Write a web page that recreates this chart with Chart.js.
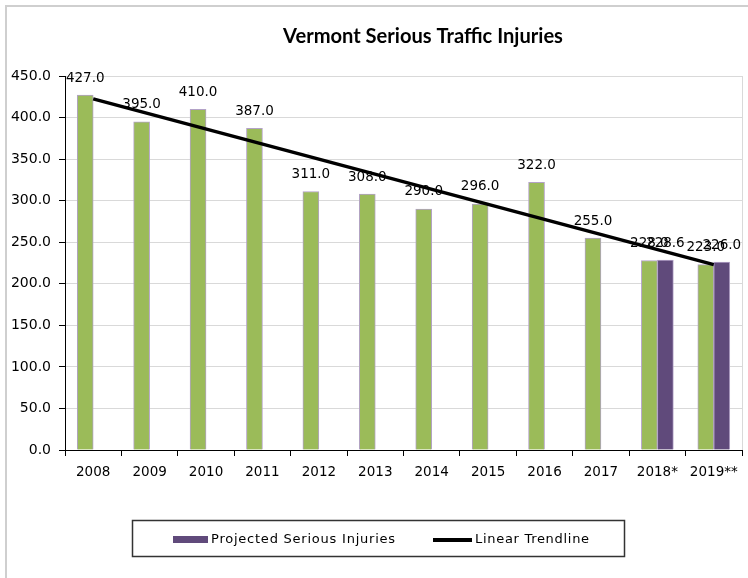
<!DOCTYPE html>
<html>
<head>
<meta charset="utf-8">
<script src="https://cdn.jsdelivr.net/npm/chart.js@4.4.0/dist/chart.umd.min.js"></script>
<style>
html,body{margin:0;padding:0;background:#fff;}
#wrap{width:748px;height:578px;position:relative;}
</style>
</head>
<body>
<div id="wrap"><canvas id="c" width="748" height="578"></canvas></div>
<script>
// ---- data ----
const categories = ['2008','2009','2010','2011','2012','2013','2014','2015','2016','2017','2018*','2019**'];
const seriousInjuries = [427, 395, 410, 387, 311, 308, 290, 296, 322, 255, 228, 223];
const projectedInjuries = [null, null, null, null, null, null, null, null, null, null, 228.6, 226.0];
const trendStartValue = 422.5;   // trendline value at 2008
const trendEndValue = 223.0;     // trendline value at 2019**
const yMin = 0, yMax = 450, yStep = 50;

const chartTitle = 'Vermont Serious Traffic Injuries';
const legendProjected = 'Projected Serious Injuries';
const legendTrend = 'Linear Trendline';

const GREEN = '#9BBB59';
const PURPLE = '#604A7B';
const BAR_EDGE = '#B3A2C7';
const FONT = '"DejaVu Sans", Verdana, sans-serif';

const framePlugin = {
  id: 'frame',
  beforeDraw(chart) {
    const ctx = chart.ctx;
    ctx.save();
    ctx.fillStyle = '#fff';
    ctx.fillRect(0, 0, chart.width, chart.height);
    ctx.strokeStyle = '#cfcfcf';
    ctx.lineWidth = 2;
    ctx.strokeRect(6, 6, chart.width + 20, chart.height + 20);
    ctx.restore();
  },
  beforeDatasetsDraw(chart) {
    const {ctx, chartArea} = chart;
    ctx.save();
    ctx.strokeStyle = '#d9d9d9';
    ctx.lineWidth = 1;
    ctx.beginPath();
    ctx.moveTo(Math.round(chartArea.right) + 0.5, chartArea.top);
    ctx.lineTo(Math.round(chartArea.right) + 0.5, chartArea.bottom);
    ctx.stroke();
    ctx.restore();
  }
};

const labelPlugin = {
  id: 'barLabels',
  afterDatasetDraw(chart, args) {
    const ds = chart.data.datasets[args.index];
    if (ds.type === 'line') return;
    const ctx = chart.ctx;
    ctx.save();
    ctx.font = '13.5px ' + FONT;
    ctx.fillStyle = '#000';
    ctx.textAlign = 'center';
    ctx.textBaseline = 'middle';
    args.meta.data.forEach((el, i) => {
      const v = ds.data[i];
      if (v === null || v === undefined) return;
      ctx.fillText(v.toFixed(1), el.x, el.y - 17);
    });
    ctx.restore();
  }
};

function fitText(ctx, text, x, y, targetWidth) {
  ctx.letterSpacing = '0px';
  const w = ctx.measureText(text).width;
  const extra = (targetWidth - w) / Math.max(1, text.length - 1);
  if ('letterSpacing' in ctx) ctx.letterSpacing = extra.toFixed(2) + 'px';
  ctx.fillText(text, x, y);
  if ('letterSpacing' in ctx) ctx.letterSpacing = '0px';
}

const titleLegendPlugin = {
  id: 'titleLegend',
  afterDraw(chart) {
    const ctx = chart.ctx;
    ctx.save();
    // title
    let size = 16;
    ctx.font = 'bold ' + size + 'px Lato, "Open Sans", sans-serif';
    const w = ctx.measureText(chartTitle).width;
    size = size * 280 / w;
    ctx.font = 'bold ' + size.toFixed(2) + 'px Lato, "Open Sans", sans-serif';
    ctx.fillStyle = '#000';
    ctx.textAlign = 'center';
    ctx.textBaseline = 'alphabetic';
    ctx.fillText(chartTitle, 423, 43);

    // legend box
    ctx.strokeStyle = '#333';
    ctx.lineWidth = 1.5;
    ctx.strokeRect(132.5, 520.5, 492, 36);
    ctx.fillStyle = PURPLE;
    ctx.fillRect(173, 536, 35, 7);
    ctx.fillStyle = '#000';
    ctx.font = '13px ' + FONT;
    ctx.textAlign = 'left';
    ctx.textBaseline = 'middle';
    fitText(ctx, legendProjected, 211, 540, 184);
    ctx.strokeStyle = '#000';
    ctx.lineWidth = 4;
    ctx.beginPath();
    ctx.moveTo(433, 540);
    ctx.lineTo(472, 540);
    ctx.stroke();
    fitText(ctx, legendTrend, 475, 540, 114);
    ctx.restore();
  }
};

new Chart(document.getElementById('c'), {
  data: {
    labels: categories,
    datasets: [
      {
        type: 'line',
        label: legendTrend,
        data: [{x: categories[0], y: trendStartValue}, {x: categories[categories.length - 1], y: trendEndValue}],
        borderColor: '#000',
        borderWidth: 3.5,
        pointRadius: 0,
        fill: false,
        order: 0
      },
      {
        type: 'bar',
        label: 'Serious Injuries',
        data: seriousInjuries,
        backgroundColor: GREEN,
        borderColor: BAR_EDGE,
        borderWidth: 1,
        barThickness: 16,
        order: 1
      },
      {
        type: 'bar',
        label: legendProjected,
        data: projectedInjuries,
        backgroundColor: PURPLE,
        borderColor: BAR_EDGE,
        borderWidth: 1,
        barThickness: 16,
        order: 1
      }
    ]
  },
  options: {
    responsive: false,
    animation: false,
    devicePixelRatio: 1,
    layout: {padding: {left: 0, right: 6, top: 76, bottom: 88}},
    plugins: {
      legend: {display: false},
      title: {display: false},
      tooltip: {enabled: false}
    },
    scales: {
      x: {
        type: 'category',
        offset: true,
        grid: {
          offset: true,
          drawOnChartArea: false,
          drawTicks: true,
          tickLength: 6,
          color: '#000'
        },
        border: {color: '#000', width: 1},
        ticks: {
          color: '#000',
          font: {family: FONT, size: 13.5},
          padding: 8,
          maxRotation: 0,
          autoSkip: false
        },
        afterFit(s) { s.height = 40; }
      },
      y: {
        min: yMin,
        max: yMax,
        grid: {
          color: '#d9d9d9',
          tickColor: '#000',
          tickLength: 6,
          drawTicks: true
        },
        border: {color: '#000', width: 1},
        ticks: {
          stepSize: yStep,
          color: '#000',
          font: {family: FONT, size: 14},
          padding: 8,
          callback: v => Number(v).toFixed(1)
        },
        afterFit(s) { s.width = 65; }
      }
    }
  },
  plugins: [framePlugin, labelPlugin, titleLegendPlugin]
});
</script>
</body>
</html>
